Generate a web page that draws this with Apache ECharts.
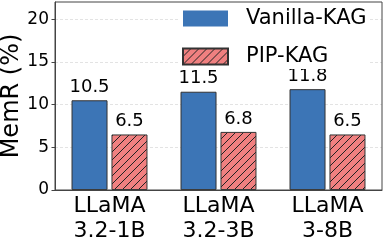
<!DOCTYPE html>
<html>
<head>
<meta charset="utf-8">
<script src="https://cdn.jsdelivr.net/npm/echarts@6/dist/echarts.min.js"></script>
<style>html,body{margin:0;padding:0;background:#fff;}#c{width:384px;height:240px;}</style>
</head>
<body>
<div id="c"></div>
<script>
const categories = ['LLaMA\n3.2-1B', 'LLaMA\n3.2-3B', 'LLaMA\n3-8B'];
const vanillaKAG = [10.5, 11.5, 11.8];
const pipKAG = [6.5, 6.8, 6.5];
const yTicks = [0, 5, 10, 15, 20];
const yAxisTitle = 'MemR (%)';

function hatch() {
  const s = 8;
  const c = document.createElement('canvas');
  c.width = s; c.height = s;
  const g = c.getContext('2d');
  g.fillStyle = '#f08080';
  g.fillRect(0, 0, s, s);
  g.strokeStyle = '#222';
  g.lineWidth = 1;
  g.beginPath();
  g.moveTo(0, s); g.lineTo(s, 0);
  g.moveTo(-1, 1); g.lineTo(1, -1);
  g.moveTo(s - 1, s + 1); g.lineTo(s + 1, s - 1);
  g.stroke();
  return c;
}

const FONT = 'DejaVu Sans';
const chart = echarts.init(document.getElementById('c'), null, {renderer: 'canvas'});
chart.setOption({
  animation: false,
  textStyle: {fontFamily: FONT},
  grid: {left: 55, right: 2, top: 2, bottom: 50, containLabel: false, outerBoundsMode: 'none', show: true, borderColor: '#444', borderWidth: 1, backgroundColor: 'transparent', z: 10},
  graphic: [{
    type: 'text', x: 12, y: 96, rotation: Math.PI / 2,
    style: {text: yAxisTitle, fontFamily: FONT, fontSize: 24, fill: '#000', align: 'center', verticalAlign: 'middle'}
  }],
  legend: {
    orient: 'vertical', left: 180, top: 6, padding: [2, 2, 2, 2],
    backgroundColor: '#fff',
    itemWidth: 45, itemHeight: 16, itemGap: 17,
    icon: 'rect',
    textStyle: {fontFamily: FONT, fontSize: 21, color: '#000', padding: [0, 0, 0, 13]},
    data: [
      {name: 'Vanilla-KAG', itemStyle: {borderWidth: 0}},
      {name: 'PIP-KAG'}
    ]
  },
  xAxis: {
    type: 'category', data: categories,
    axisLine: {lineStyle: {color: '#444', width: 1}},
    axisTick: {alignWithLabel: true, length: 3.5, lineStyle: {color: '#444'}},
    axisLabel: {fontFamily: FONT, fontSize: 22, lineHeight: 25, color: '#000', margin: 4}
  },
  yAxis: {
    type: 'value', min: 0, max: 22, interval: 5,
    axisLine: {show: true, lineStyle: {color: '#444', width: 1}},
    axisTick: {show: true, length: 3.5, lineStyle: {color: '#444'}, customValues: yTicks},
    axisLabel: {fontFamily: FONT, fontSize: 17, color: '#000', margin: 6, customValues: yTicks},
    splitLine: {show: true, lineStyle: {color: '#dcdcdc', type: [3, 2], width: 0.8}}
  },
  series: [
    {
      name: 'Vanilla-KAG', type: 'bar', data: vanillaKAG,
      barWidth: 36, barGap: '11%',
      itemStyle: {color: '#3c75b6', borderColor: '#333', borderWidth: 1},
      label: {show: true, position: 'top', distance: 4, fontFamily: FONT, fontSize: 18, color: '#000'}
    },
    {
      name: 'PIP-KAG', type: 'bar', data: pipKAG,
      barWidth: 36,
      itemStyle: {color: {image: hatch(), repeat: 'repeat'}, borderColor: '#333', borderWidth: 1},
      label: {show: true, position: 'top', distance: 4, fontFamily: FONT, fontSize: 18, color: '#000'}
    }
  ]
});
</script>
</body>
</html>
